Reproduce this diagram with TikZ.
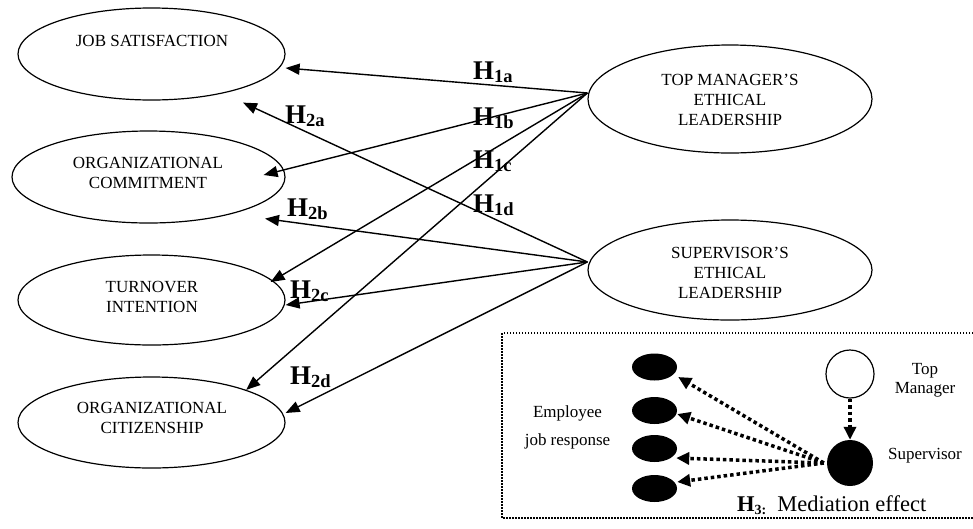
\documentclass[tikz,border=0pt]{standalone}
\usepackage{fontspec}
\setmainfont{Liberation Serif}
\usetikzlibrary{shapes.geometric,arrows.meta}
\newcommand{\hyplab}[1]{{\fontsize{27}{27}\selectfont\bfseries H\raisebox{-3.5pt}{\fontsize{18.5}{18.5}\selectfont #1}}}
\begin{document}
\begin{tikzpicture}[x=1pt,y=-1pt,
  bigell/.style={draw, ellipse, line width=1.2pt, inner sep=0pt},
  lab/.style={font=\fontsize{17}{20}\selectfont, align=center, inner sep=0pt},
  hyparrow/.style={line width=1.4pt, -{Triangle[length=14pt,width=11pt]}},
  medarrow/.style={line width=3.5pt, dash pattern=on 3.5pt off 3pt, -{Triangle[length=13pt,width=12pt]}},
  hlab/.style={anchor=base west, inner sep=0pt},
  smallell/.style={ellipse, fill=black, minimum width=45pt, minimum height=27pt, inner sep=0pt},
]
\useasboundingbox (0,0) rectangle (973,528);

% left ellipses
\node[bigell, minimum width=267pt, minimum height=92pt] (js) at (151.5,54) {};
\node[bigell, minimum width=273pt, minimum height=92pt] (oc) at (148.5,177) {};
\node[bigell, minimum width=267pt, minimum height=90pt] (ti) at (151.5,300) {};
\node[bigell, minimum width=267pt, minimum height=91pt] (oci) at (151.5,422.5) {};
% right ellipses
\node[bigell, minimum width=284pt, minimum height=108pt] (tm) at (730,99) {};
\node[bigell, minimum width=284pt, minimum height=100pt] (sv) at (730,270) {};

% texts
\node[lab] (jst) at (152,40.5) {JOB SATISFACTION};
\node[lab] (oct) at (148,172.5) {ORGANIZATIONAL\\COMMITMENT};
\node[lab] (tit) at (152,296.5) {TURNOVER\\INTENTION};
\node[lab] (ocit) at (152,417.5) {ORGANIZATIONAL\\CITIZENSHIP};
\node[lab] (tmt) at (730,99.5) {TOP MANAGER’S\\ETHICAL\\LEADERSHIP};
\node[lab] (svt) at (730,272.5) {SUPERVISOR’S\\ETHICAL\\LEADERSHIP};

% H1 arrows
\draw[hyparrow] ([yshift=6pt]tm.west) -- ([yshift=-14pt]js.east);
\draw[hyparrow] ([yshift=6pt]tm.west) -- ([xshift=-22pt,yshift=2pt]oc.east);
\draw[hyparrow] ([yshift=6pt]tm.west) -- ([xshift=-15pt,yshift=18pt]ti.east);
\draw[hyparrow] ([yshift=6pt]tm.west) -- (oci.19);
% H2 arrows
\draw[hyparrow] ([yshift=8pt]sv.west) -- ([xshift=91.5pt,yshift=-2pt]js.south);
\draw[hyparrow] ([yshift=8pt]sv.west) -- ([xshift=116.5pt,yshift=5pt]oc.south);
\draw[hyparrow] ([yshift=8pt]sv.west) -- ([yshift=-5pt]ti.east);
\draw[hyparrow] ([yshift=8pt]sv.west) -- ([yshift=9.5pt]oci.east);

% hypothesis labels
\node[hlab] (h1a) at (473,79) {\hyplab{1a}};
\node[hlab] (h1b) at (473,125) {\hyplab{1b}};
\node[hlab] (h1c) at (473,168) {\hyplab{1c}};
\node[hlab] (h1d) at (473,212) {\hyplab{1d}};
\node[hlab] (h2a) at (285,123) {\hyplab{2a}};
\node[hlab] (h2b) at (287,216) {\hyplab{2b}};
\node[hlab] (h2c) at (290,298) {\hyplab{2c}};
\node[hlab] (h2d) at (290,384) {\hyplab{2d}};

% mediation box
\draw[line width=1.3pt, dash pattern=on 1.5pt off 1.5pt] (973,333) -- (502,333) -- (502,518) -- (973,518);

\node[smallell] (e1) at (654.5,367) {};
\node[smallell] (e2) at (654.5,410.5) {};
\node[smallell] (e3) at (654.5,448.5) {};
\node[smallell] (e4) at (654.5,488.5) {};

\node[circle, draw, line width=1.2pt, minimum size=48pt, inner sep=0pt] (tmc) at (850,374) {};
\node[circle, fill=black, minimum size=46pt, inner sep=0pt] (svc) at (850,463) {};

\draw[medarrow] (tmc.south) -- (svc.north);
\draw[medarrow] ([xshift=-3pt]svc.west) -- ([xshift=1pt,yshift=-10pt]e1.east);
\draw[medarrow] ([xshift=-3pt]svc.west) -- ([yshift=-3.5pt]e2.east);
\draw[medarrow] ([xshift=-3pt]svc.west) -- ([xshift=-1pt,yshift=-9.5pt]e3.east);
\draw[medarrow] ([xshift=-3pt]svc.west) -- ([yshift=6.5pt]e4.east);

\node[lab, font=\fontsize{17}{19}\selectfont] (tmlab) at (925,380.7) {Top\\Manager};
\node[lab] (svlab) at (925,456) {Supervisor};
\node[lab, align=center] (emp) at (567.5,427) {Employee\\[8pt]job response};
\node[hlab] (h3) at (737,511) {\fontsize{22.5}{22.5}\selectfont{\bfseries H\raisebox{-3pt}{\fontsize{14}{14}\selectfont 3:}}\hspace{11pt}Mediation effect};
\end{tikzpicture}
\end{document}
